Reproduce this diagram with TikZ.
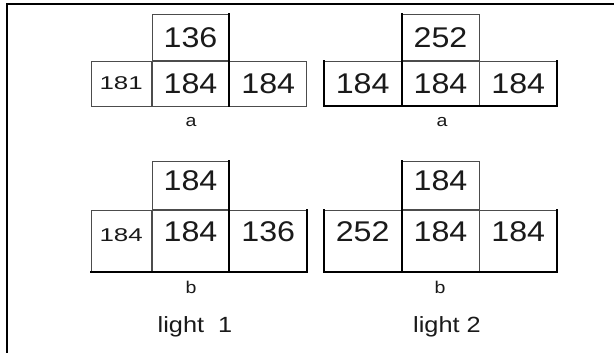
\documentclass[tikz,border=0pt]{standalone}
\usepackage{fontspec}
\setmainfont{Liberation Sans}
\usetikzlibrary{positioning}
\definecolor{inkGray}{HTML}{1A1A1A}
\newcommand{\wnum}[1]{\scalebox{1.13}[1]{#1}}
\newcommand{\snum}[1]{\scalebox{1.4}[1]{#1}}
\newcommand{\wlab}[1]{\scalebox{1.15}[1]{#1}}

\begin{document}
\begin{tikzpicture}[x=1pt,y=-1pt,
  acell/.style={draw=black!70,line width=0.8pt,inner sep=0pt,minimum width=77pt,minimum height=45pt,
    text=inkGray,font=\fontsize{28.5}{30}\selectfont},
  bcell/.style={acell,text height=31pt,text depth=31pt},
  btop/.style={acell,text height=29pt,text depth=19pt},
  narrow/.style={minimum width=60pt,font=\fontsize{18.5}{20}\selectfont},
  heavy/.style={line width=2pt,black,line cap=rect},
  lab/.style={text=inkGray,font=\fontsize{17}{19}\selectfont,anchor=base},
  caption/.style={lab,font=\fontsize{22}{24}\selectfont}]
\useasboundingbox (0,0) rectangle (614,353);
\fill[white] (0,0) rectangle (614,353);
\draw[line width=1.6pt] (7,353) -- (7,4) -- (614,4);

% light 1, a
\node[acell] (a1m) at (190.5,83.5) {\wnum{184}};
\node[acell,minimum height=46pt,above=0pt of a1m] (a1t) {\wnum{136}};
\node[acell,right=0pt of a1m] (a1r) {\wnum{184}};
\node[acell,narrow,left=0pt of a1m] (a1l) {\snum{181}};
\draw[heavy] (a1t.north east) -- (a1r.south west);
\node[lab] (a1lab) at (191,127) {\wlab{a}};

% light 2, a
\node[acell] (a2m) at (440.5,83.5) {\wnum{184}};
\node[acell,minimum height=46pt,above=0pt of a2m] (a2t) {\wnum{252}};
\node[acell,right=0pt of a2m] (a2r) {\wnum{184}};
\node[acell,left=0pt of a2m] (a2l) {\wnum{184}};
\draw[heavy] (a2t.north west) -- (a2m.south west);
\draw[heavy] (a2l.north west) -- (a2l.south west) -- (a2r.south east) -- (a2r.north east);
\node[lab] (a2lab) at (442,127) {\wlab{a}};

% light 1, b
\node[bcell] (b1m) at (190.5,241) {\wnum{184}};
\node[btop,above=0pt of b1m] (b1t) {\wnum{184}};
\node[bcell,right=0pt of b1m] (b1r) {\wnum{136}};
\node[bcell,narrow,left=0pt of b1m] (b1l) {\snum{184}};
\draw[heavy] (b1t.north east) -- (b1r.south west);
\draw[heavy] (b1l.south west) -- (b1r.south east) -- (b1r.north east);
\node[lab] (b1lab) at (191,293) {\wlab{b}};
\node[caption] (light1) at (195,332) {\wlab{light\ \ 1}};

% light 2, b
\node[bcell] (b2m) at (440.5,241) {\wnum{184}};
\node[btop,above=0pt of b2m] (b2t) {\wnum{184}};
\node[bcell,right=0pt of b2m] (b2r) {\wnum{184}};
\node[bcell,left=0pt of b2m] (b2l) {\wnum{252}};
\draw[heavy] (b2t.north west) -- (b2m.south west);
\draw[heavy] (b2l.north west) -- (b2l.south west) -- (b2r.south east) -- (b2r.north east);
\node[lab] (b2lab) at (440,293) {\wlab{b}};
\node[caption] (light2) at (447,332) {\wlab{light 2}};
\end{tikzpicture}
\end{document}
